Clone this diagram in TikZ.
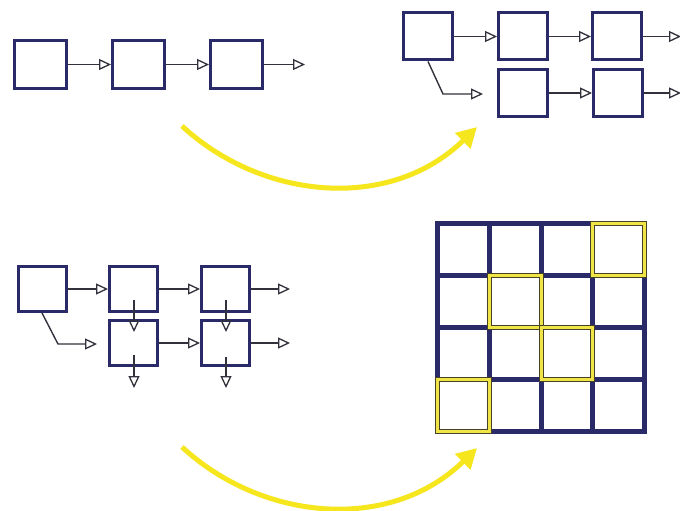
\documentclass[tikz,border=0pt]{standalone}
\usetikzlibrary{arrows.meta}
\definecolor{navy}{RGB}{42,42,105}
\definecolor{ylw}{RGB}{245,230,30}
\definecolor{ysq}{RGB}{240,228,70}
\definecolor{yedge}{RGB}{70,66,40}
\definecolor{lnk}{RGB}{50,50,60}
\begin{document}
\begin{tikzpicture}[x=1pt,y=-1pt,
  box/.style={draw=navy,line width=3pt,fill=white,inner sep=0pt},
  boxtl/.style={box,minimum width=52pt,minimum height=48pt},
  boxtr/.style={box,minimum width=49pt,minimum height=47pt},
  boxbl/.style={box,minimum width=48pt,minimum height=45pt},
  link/.style={draw=lnk,line width=1.4pt,-{Triangle[open,length=12pt,width=11pt,line width=1.3pt]}},
  yarrow/.style={draw=ylw,line width=5pt,-{Triangle[length=20pt,width=21pt]}},
  gridline/.style={draw=navy,line width=5pt},
  ysqdark/.style={draw=yedge,line width=5pt},
  ysqlight/.style={draw=ysq,line width=3pt}]
\useasboundingbox[fill=white] (0,0) rectangle (680,511);

% ---- top-left chain
\node[boxtl] (t1) at (40.5,64.5) {};
\node[boxtl] (t2) at (138.5,64.5) {};
\node[boxtl] (t3) at (236.5,64.5) {};
\coordinate (t4) at (305,64.5);
\draw[link] (t1) -- (t2);
\draw[link] (t2) -- (t3);
\draw[link] (t3) -- (t4);

% ---- top-right chains
\node[boxtr] (a) at (428,36.5) {};
\node[boxtr] (b) at (523,36.5) {};
\node[boxtr] (c) at (617,36.5) {};
\node[boxtr] (d) at (523,93) {};
\node[boxtr] (e) at (618,93) {};
\coordinate (cend) at (681,36.5);
\coordinate (eend) at (681,93);
\coordinate (abend) at (443,94);
\coordinate (aend) at (483,94);
\draw[link] (a) -- (b);
\draw[link] (b) -- (c);
\draw[link] (c) -- (cend);
\draw[link] (d) -- (e);
\draw[link] (e) -- (eend);
\draw[link] (a.south) -- (abend) -- (aend);

% ---- bottom-left chains
\node[boxbl] (f) at (42,289) {};
\node[boxbl] (g) at (133.5,289) {};
\node[boxbl] (h) at (225.5,289) {};
\node[boxbl] (i) at (133.5,343) {};
\node[boxbl] (j) at (225.5,343) {};
\coordinate (hend) at (290,289);
\coordinate (jend) at (290,343);
\coordinate (fbend) at (58,344);
\coordinate (fend) at (97,344);
\coordinate (gs) at (134,300);
\coordinate (ge) at (134,332);
\coordinate (hs) at (226,300);
\coordinate (he) at (226,332);
\coordinate (is) at (134,355);
\coordinate (ie) at (134,388);
\coordinate (js) at (226,357);
\coordinate (je) at (226,388);
\draw[link] (f) -- (g);
\draw[link] (g) -- (h);
\draw[link] (h) -- (hend);
\draw[link] (i) -- (j);
\draw[link] (j) -- (jend);
\draw[link] (f.south) -- (fbend) -- (fend);
\draw[link] (gs) -- (ge);
\draw[link] (hs) -- (he);
\draw[link] (is) -- (ie);
\draw[link] (js) -- (je);

% ---- grid
\draw[gridline] (437.5,223.5) rectangle (644.5,431.5);
\foreach \xx in {489.25,541,592.75} \draw[gridline] (\xx,223.5) -- (\xx,431.5);
\foreach \yy in {275.5,327.5,379.5} \draw[gridline] (437.5,\yy) -- (644.5,\yy);
\foreach \xa/\ya/\xb/\yb in {592.75/223.5/644.5/275.5, 489.25/275.5/541/327.5, 541/327.5/592.75/379.5, 437.5/379.5/489.25/431.5}{
  \draw[ysqdark] (\xa,\ya) rectangle (\xb,\yb);
  \draw[ysqlight] (\xa,\ya) rectangle (\xb,\yb);
}

% ---- yellow arrows
\coordinate (y1s) at (182,126);
\coordinate (y1e) at (477,127);
\coordinate (y2s) at (182,447);
\coordinate (y2e) at (477,448);
\draw[yarrow] (y1s) .. controls (262,200) and (390,212) .. (y1e);
\draw[yarrow] (y2s) .. controls (262,521) and (390,533) .. (y2e);
\end{tikzpicture}
\end{document}
